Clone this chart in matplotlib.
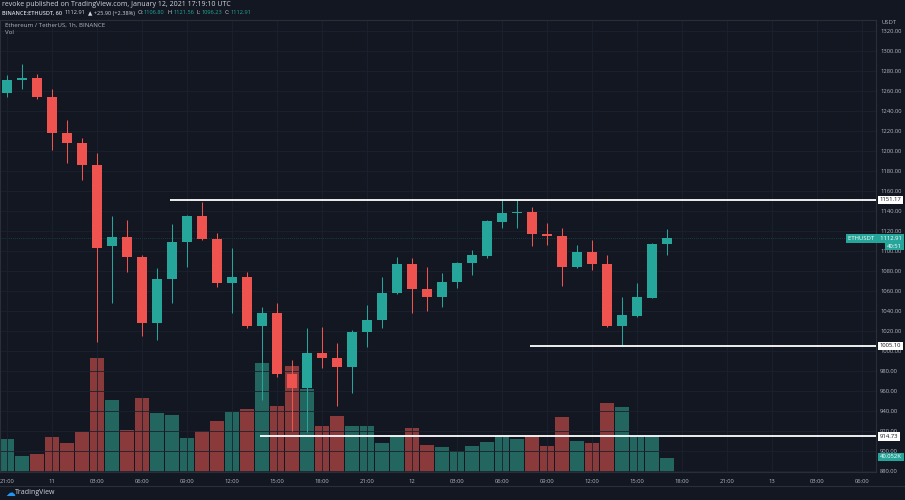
import matplotlib
matplotlib.use('Agg')
import matplotlib.pyplot as plt
import numpy as np
from matplotlib.transforms import blended_transform_factory

# ---------------- data ----------------
opens = [1258, 1271, 1273, 1254, 1218, 1208, 1186, 1105, 1114, 1094, 1028, 1072, 1109, 1135, 1112,
         1068, 1074, 1025, 1038, 977, 963, 998, 993, 984, 1019, 1031, 1058, 1087, 1062, 1054,
         1069, 1088, 1095, 1129, 1138, 1139, 1117, 1115, 1084, 1099, 1087, 1025, 1035, 1053, 1106.80]
closes = [1271, 1273, 1254, 1218, 1208, 1186, 1103, 1114, 1094, 1028, 1072, 1109, 1135, 1112, 1068,
          1074, 1025, 1038, 977, 963, 998, 993, 984, 1019, 1031, 1058, 1087, 1062, 1054, 1069,
          1088, 1096, 1130, 1138, 1139, 1117, 1115, 1084, 1099, 1087, 1025, 1036, 1054, 1107, 1112.91]
highs = [1276, 1287, 1277, 1262, 1231, 1213, 1198, 1135, 1131, 1096, 1083, 1127, 1136, 1149, 1118,
         1103, 1079, 1044, 1048, 991, 1023, 1024, 1008, 1021, 1046, 1074, 1094, 1093, 1084, 1078,
         1089, 1101, 1131, 1151, 1151, 1144, 1128, 1123, 1106, 1111, 1096, 1054, 1068, 1108, 1121.56]
lows = [1254, 1262, 1252, 1201, 1188, 1171, 1009, 1048, 1079, 1015, 1011, 1048, 1084, 1111, 1064,
        1038, 1023, 951, 974, 920, 919, 983, 945, 958, 1004, 1023, 1057, 1038, 1040, 1044,
        1063, 1076, 1093, 1123, 1123, 1105, 1106, 1065, 1083, 1081, 1024, 1006, 1034, 1053, 1096.23]
volumes_k = [94, 46, 51, 100, 83, 114, 326, 206, 120, 212, 169, 163, 97, 117, 146,
             172, 180, 312, 189, 303, 237, 132, 160, 132, 132, 83, 103, 126, 77, 72,
             60, 74, 86, 103, 94, 103, 74, 157, 89, 83, 197, 186, 103, 103, 40.052]

x_tick_labels = ['21:00', '11', '03:00', '06:00', '09:00', '12:00', '15:00', '18:00', '21:00', '12',
                 '03:00', '06:00', '09:00', '12:00', '15:00', '18:00', '21:00', '13', '03:00', '06:00']
y_tick_values = list(range(880, 1321, 20))

levels = [1151.17, 1005.10, 914.73]
level_start_bar = [11, 35, 17]

last_price = 1112.91
last_volume_label = '40.052K'
countdown = '40:51'

header_line1 = 'revoke published on TradingView.com, January 12, 2021 17:19:10 UTC'
header_line2 = [('BINANCE:ETHUSDT, 60', 'w'), ('1112.91', 'w'), ('\u25b2 +25.90 (+2.38%)', 'w'),
                ('O:', 'w'), ('1106.80', 'g'), ('H:', 'w'), ('1121.56', 'g'),
                ('L:', 'w'), ('1096.23', 'g'), ('C:', 'w'), ('1112.91', 'g')]

# ---------------- style ----------------
BG = '#131722'
GRID = '#1c2130'
TXT = '#b2b5be'
UP = '#26a69a'
DOWN = '#ef5350'
UPV = '#22665f'
DOWNV = '#8b3a3c'
SPINE = '#2a2e39'
HEAD = '#d1d4dc'

plt.rcParams['font.family'] = ['Open Sans', 'DejaVu Sans']

W, H = 905, 500
fig = plt.figure(figsize=(W / 100, H / 100), dpi=100, facecolor=BG)

ax_l, ax_r, ax_t, ax_b = 0, 876, 20, 472
rect = [ax_l / W, 1 - ax_b / H, (ax_r - ax_l) / W, (ax_b - ax_t) / H]

n = len(opens)
idx = np.arange(n)
xlim = (-0.467, 57.93)

# volume axis (behind)
axv = fig.add_axes(rect, facecolor=BG)
vcols = [UPV if c >= o else DOWNV for o, c in zip(opens, closes)]
axv.bar(idx, volumes_k, width=0.93, color=vcols, linewidth=0)
axv.set_xlim(*xlim)
axv.set_ylim(0, 1293)
axv.set_xticks([])
axv.set_yticks([])
for s in axv.spines.values():
    s.set_visible(False)

# price axis (front)
ax = fig.add_axes(rect)
ax.patch.set_visible(False)
ax.set_zorder(axv.get_zorder() + 1)
ax.set_xlim(*xlim)
ax.set_ylim(879, 1331)

ax.set_xticks(np.arange(0, 58, 3))
ax.set_xticklabels(x_tick_labels)
ax.set_yticks(y_tick_values)
ax.set_yticklabels(['%.2f' % v for v in y_tick_values])
ax.yaxis.tick_right()
ax.tick_params(axis='both', length=0, labelsize=4.2, colors=TXT)
ax.tick_params(axis='y', pad=3)
ax.tick_params(axis='x', pad=5)
ax.grid(True, color=GRID, linewidth=0.6, zorder=0)
for k, s in ax.spines.items():
    s.set_color(SPINE)
    s.set_linewidth(0.8)

# candles
ccols = [UP if c >= o else DOWN for o, c in zip(opens, closes)]
ax.vlines(idx, lows, highs, colors=ccols, linewidth=0.75, zorder=2)
bottoms = [min(o, c) for o, c in zip(opens, closes)]
heights = [max(abs(c - o), 1.2) for o, c in zip(opens, closes)]
ax.bar(idx, heights, bottom=bottoms, width=0.7, color=ccols, linewidth=0, zorder=3)

# current price line
ax.axhline(last_price, color=UP, linestyle=(0, (1, 2)), linewidth=0.5, alpha=0.5, zorder=1)

# horizontal levels
for lv, st in zip(levels, level_start_bar):
    ax.hlines(lv, st - 0.13, xlim[1], colors='white', linewidth=1.3, zorder=4)

tr = blended_transform_factory(ax.transAxes, ax.transData)
for lv in levels:
    ax.text(1.004, lv, '%.2f' % lv, transform=tr, fontsize=4.2, color=BG, va='center', ha='left',
            bbox=dict(boxstyle='square,pad=0.3', fc='white', ec='none'), zorder=6, clip_on=False)

# last price label
ax.text(902 / 876, last_price, 'ETHUSDT    %.2f' % last_price, transform=tr, fontsize=4.2, color='white',
        va='center', ha='right', bbox=dict(boxstyle='square,pad=0.35', fc=UP, ec='none'), zorder=7,
        clip_on=False)
ax.text(902 / 876, last_price - 8, countdown, transform=tr, fontsize=4.2, color='white',
        va='center', ha='right', bbox=dict(boxstyle='square,pad=0.3', fc=UP, ec='none'), zorder=7,
        clip_on=False)

# volume label
fig.text(902 / W, 1 - 457 / H, last_volume_label, fontsize=4.2, color='white', va='center', ha='right',
         bbox=dict(boxstyle='square,pad=0.3', fc=UP, ec='none'), zorder=10)

# axis unit
fig.text(889 / W, 1 - 23 / H, 'USDT', fontsize=4.2, color=TXT, ha='center', va='center')

# header
fig.text(2 / W, 1 - 5 / H, header_line1, fontsize=5, color=HEAD, ha='left', va='center')
renderer = fig.canvas.get_renderer()
xp = 2.0
for t, c in header_line2:
    col = HEAD if c == 'w' else UP
    tt = fig.text(xp / W, 1 - 13 / H, t, fontsize=4.1, color=col, ha='left', va='center',
                  fontweight='semibold' if c == 'w' and t.startswith('BINANCE') else 'normal')
    bb = tt.get_window_extent(renderer)
    gap = 0.5 if t.endswith(':') else 2.5
    xp += bb.width + gap

fig.text(5 / W, 1 - 25 / H, 'Ethereum / TetherUS, 1h, BINANCE', fontsize=4.4, color=TXT, ha='left',
         va='center')
fig.text(5 / W, 1 - 32 / H, 'Vol', fontsize=4.4, color=TXT, ha='left', va='center')

# footer
fig.add_artist(plt.Line2D([0, 1], [1 - 486 / H, 1 - 486 / H], color=SPINE, linewidth=0.8))
fig.text(5 / W, 1 - 493 / H, '\u2601', fontsize=7, color='#2196f3', ha='left', va='center',
         family='DejaVu Sans')
fig.text(15 / W, 1 - 493 / H, 'TradingView', fontsize=5, color=HEAD, ha='left', va='center')

fig.savefig('out.png', dpi=100, facecolor=BG)
